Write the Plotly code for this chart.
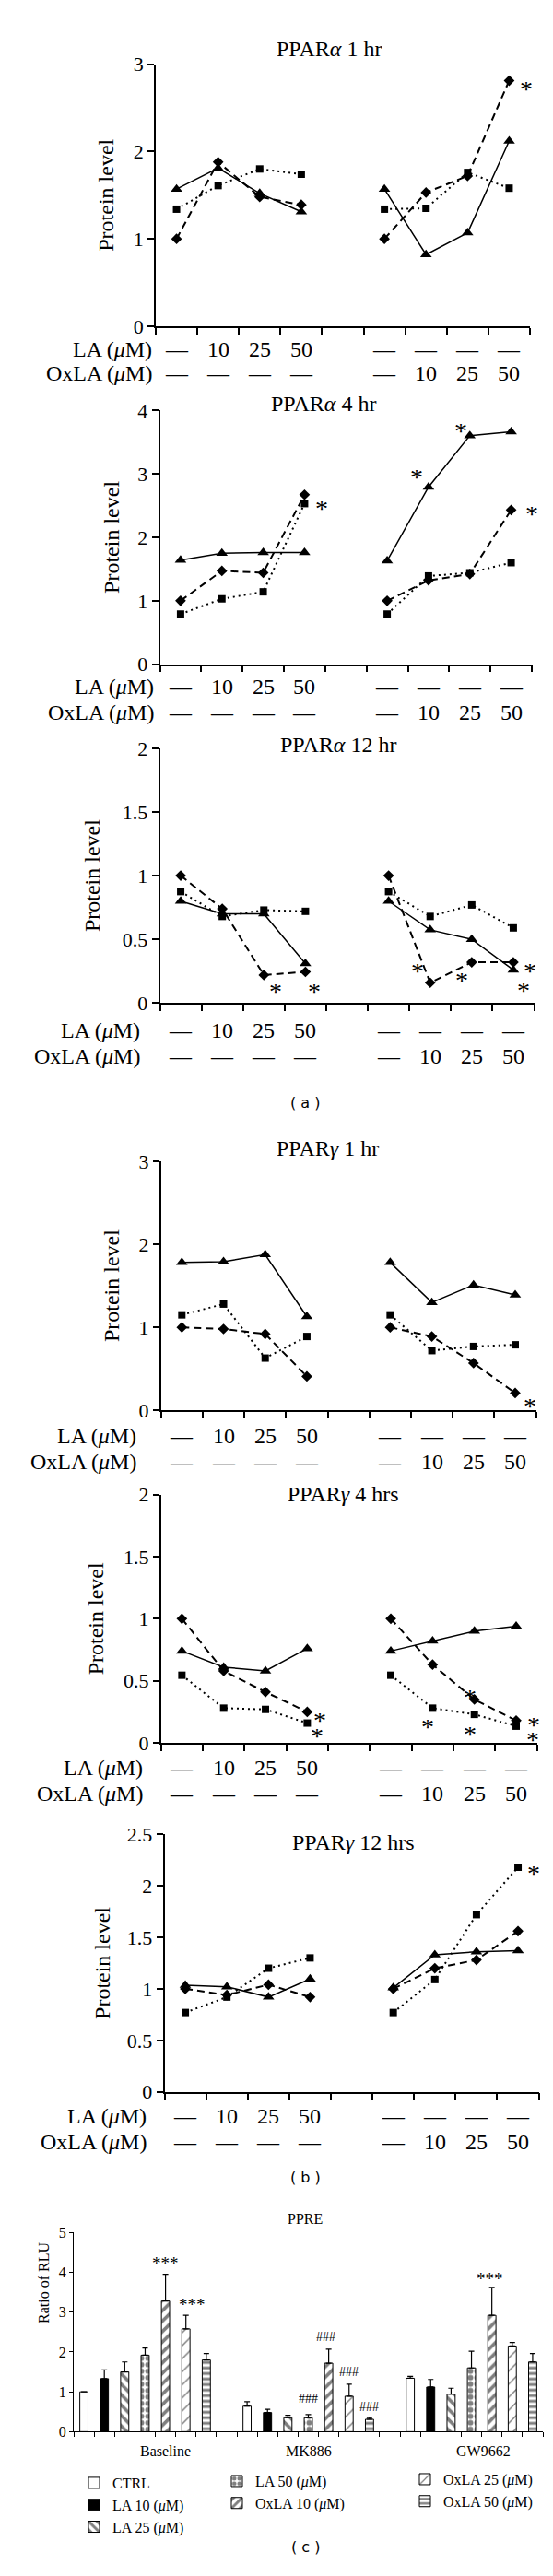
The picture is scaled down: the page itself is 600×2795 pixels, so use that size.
import plotly.graph_objects as go

W, H = 600, 2795
SERIF = "Liberation Serif, Times New Roman, serif"
SANS = "DejaVu Sans, Verdana, sans-serif"

# ---------------- data: line panels (slot 5 is the gap) ----------------
x_slots = [1, 2, 3, 4, 5, 6, 7, 8, 9]

pa1_tri = [1.57, 1.81, 1.52, 1.31, None, 1.57, 0.82, 1.07, 2.12]
pa1_sq = [1.34, 1.61, 1.80, 1.74, None, 1.34, 1.35, 1.76, 1.58]
pa1_dia = [1.00, 1.88, 1.48, 1.39, None, 1.00, 1.53, 1.72, 2.81]

pa4_tri = [1.64, 1.75, 1.76, 1.76, None, 1.63, 2.79, 3.60, 3.66]
pa4_sq = [0.79, 1.03, 1.14, 2.53, None, 0.79, 1.39, 1.44, 1.60]
pa4_dia = [1.00, 1.47, 1.44, 2.67, None, 1.00, 1.32, 1.42, 2.43]

pa12_tri = [0.80, 0.70, 0.70, 0.31, None, 0.80, 0.575, 0.50, 0.26]
pa12_sq = [0.875, 0.68, 0.73, 0.72, None, 0.875, 0.68, 0.77, 0.59]
pa12_dia = [1.00, 0.74, 0.22, 0.245, None, 1.00, 0.16, 0.32, 0.32]

pg1_tri = [1.78, 1.79, 1.875, 1.13, None, 1.78, 1.30, 1.51, 1.39]
pg1_sq = [1.15, 1.28, 0.63, 0.89, None, 1.15, 0.72, 0.77, 0.79]
pg1_dia = [1.00, 0.98, 0.92, 0.41, None, 1.00, 0.89, 0.57, 0.21]

pg4_tri = [0.74, 0.61, 0.58, 0.76, None, 0.74, 0.82, 0.90, 0.94]
pg4_sq = [0.545, 0.28, 0.27, 0.16, None, 0.545, 0.28, 0.23, 0.135]
pg4_dia = [1.00, 0.58, 0.41, 0.25, None, 1.00, 0.63, 0.35, 0.18]

pg12_tri = [1.035, 1.02, 0.92, 1.095, None, 1.01, 1.33, 1.36, 1.37]
pg12_sq = [0.77, 0.92, 1.20, 1.30, None, 0.77, 1.09, 1.72, 2.18]
pg12_dia = [1.00, 0.94, 1.04, 0.92, None, 1.00, 1.20, 1.28, 1.56]

# significance stars (slot, value)
pa1_star_x, pa1_star_y = [9.41], [2.77]
pa4_star_x, pa4_star_y = [4.42, 6.72, 7.79, 9.55, 9.5], [2.54, 3.03, 3.75, 3.69, 2.45]
pa12_star_x, pa12_star_y = [3.29, 4.22, 6.7, 7.75, 9.4, 9.25], [0.13, 0.13, 0.29, 0.22, 0.29, 0.14]
pg1_star_x, pg1_star_y = [9.36], [0.12]
pg4_star_x, pg4_star_y = [4.3, 4.24, 7.9, 6.89, 7.9, 9.42, 9.4], [0.22, 0.10, 0.41, 0.17, 0.115, 0.19, 0.07]
pg12_star_x, pg12_star_y = [9.38], [2.17]

# treatment row labels
la_row = ["—", "10", "25", "50", "", "—", "—", "—", "—"]
oxla_row = ["—", "—", "—", "—", "", "—", "10", "25", "50"]

# ---------------- data: PPRE bar chart ----------------
bar_names = ["CTRL", "LA 10 (<i>μ</i>M)", "LA 25 (<i>μ</i>M)", "LA 50 (<i>μ</i>M)",
             "OxLA 10 (<i>μ</i>M)", "OxLA 25 (<i>μ</i>M)", "OxLA 50 (<i>μ</i>M)"]
groups = ["Baseline", "MK886", "GW9662"]
baseline_vals = [1.00, 1.33, 1.50, 1.92, 3.28, 2.58, 1.80]
baseline_err = [0.00, 0.22, 0.25, 0.18, 0.67, 0.34, 0.16]
mk886_vals = [0.64, 0.48, 0.35, 0.35, 1.72, 0.89, 0.31]
mk886_err = [0.11, 0.08, 0.06, 0.08, 0.35, 0.30, 0.04]
gw9662_vals = [1.34, 1.12, 0.94, 1.60, 2.92, 2.15, 1.75]
gw9662_err = [0.05, 0.19, 0.15, 0.42, 0.70, 0.09, 0.21]
group_start_slots = [1, 9, 17]

bar_sig_x = [5, 6.3, 20.9, 12.0, 12.85, 14.0, 15.0]
bar_sig_y = [4.3, 3.27, 3.9, 0.84, 2.38, 1.51, 0.62]
bar_sig_text = ["***", "***", "***", "###", "###", "###", "###"]

# ---------------- layout geometry (pixels) ----------------
panels = [
    dict(data=(pa1_tri, pa1_sq, pa1_dia), stars=(pa1_star_x, pa1_star_y),
         x0=161, x1=567, ytop=50, ybot=337, ymax=3, dtick=1,
         title="PPAR<i>α</i> 1 hr", tx=349, ty=33, ylx=107, rlx=159, la_y=362, ox_y=388),
    dict(data=(pa4_tri, pa4_sq, pa4_dia), stars=(pa4_star_x, pa4_star_y),
         x0=165.5, x1=569, ytop=429, ybot=707, ymax=4, dtick=1,
         title="PPAR<i>α</i> 4 hr", tx=343, ty=422, ylx=113, rlx=161, la_y=732, ox_y=760),
    dict(data=(pa12_tri, pa12_sq, pa12_dia), stars=(pa12_star_x, pa12_star_y),
         x0=165.5, x1=571.5, ytop=799, ybot=1078, ymax=2, dtick=0.5,
         title="PPAR<i>α</i> 12 hr", tx=359, ty=795, ylx=92, rlx=146, la_y=1108, ox_y=1136),
    dict(data=(pg1_tri, pg1_sq, pg1_dia), stars=(pg1_star_x, pg1_star_y),
         x0=166.7, x1=573.6, ytop=1251, ybot=1524, ymax=3, dtick=1,
         title="PPAR<i>γ</i> 1 hr", tx=347, ty=1237, ylx=113, rlx=142, la_y=1552, ox_y=1580),
    dict(data=(pg4_tri, pg4_sq, pg4_dia), stars=(pg4_star_x, pg4_star_y),
         x0=166.7, x1=574.7, ytop=1616, ybot=1888, ymax=2, dtick=0.5,
         title="PPAR<i>γ</i> 4 hrs", tx=364, ty=1615, ylx=96, rlx=149, la_y=1915, ox_y=1943),
    dict(data=(pg12_tri, pg12_sq, pg12_dia), stars=(pg12_star_x, pg12_star_y),
         x0=170.5, x1=576.6, ytop=1988, ybot=2270, ymax=2.5, dtick=0.5,
         title="PPAR<i>γ</i> 12 hrs", tx=375, ty=1997, ylx=103, rlx=153, la_y=2297, ox_y=2325),
]


def px(x):
    return x / W


def py(y):
    return 1 - y / H


fig = go.Figure()
annotations = []
layout = {}

axis_common = dict(showline=True, linecolor="black", linewidth=1.5, ticks="outside",
                   ticklen=7, tickwidth=1.5, tickcolor="black", showgrid=False,
                   zeroline=False, fixedrange=True)

styles = [
    dict(symbol="triangle-up", size=11, dash="solid", width=1.5),
    dict(symbol="square", size=8, dash="2px,4px", width=2),
    dict(symbol="diamond", size=9, dash="8px,5px", width=2),
]

for i, p in enumerate(panels, start=1):
    xa = f"x{i}"
    ya = f"y{i}"
    for vals, st in zip(p["data"], styles):
        fig.add_trace(go.Scatter(
            x=x_slots, y=vals, xaxis=xa, yaxis=ya, mode="lines+markers",
            connectgaps=False, showlegend=False, cliponaxis=False,
            line=dict(color="black", width=st["width"], dash=st["dash"]),
            marker=dict(symbol=st["symbol"], size=st["size"], color="black"),
        ))
    layout[f"xaxis{i}"] = dict(axis_common, domain=[px(p["x0"]), px(p["x1"])], anchor=ya,
                               range=[0.5, 9.5], tickvals=[k + 0.5 for k in range(0, 10)],
                               showticklabels=False)
    nt = int(round(p["ymax"] / p["dtick"])) + 1
    layout[f"yaxis{i}"] = dict(axis_common, domain=[py(p["ybot"]), py(p["ytop"])], anchor=xa,
                               range=[0, p["ymax"]],
                               tickvals=[k * p["dtick"] for k in range(nt)],
                               ticktext=[f"{k * p['dtick']:g}" for k in range(nt)],
                               tickfont=dict(family=SERIF, size=22, color="black"))
    # title
    annotations.append(dict(text=p["title"], x=px(p["tx"]), y=py(p["ty"]), xref="paper",
                            yref="paper", showarrow=False, xanchor="center", yanchor="middle",
                            font=dict(family=SERIF, size=24, color="black")))
    # y title
    annotations.append(dict(text="Protein level", x=px(p["ylx"]),
                            y=py((p["ytop"] + p["ybot"]) / 2), xref="paper", yref="paper",
                            showarrow=False, textangle=-90, xanchor="center", yanchor="middle",
                            font=dict(family=SERIF, size=24, color="black")))
    # row labels
    for lbl, yy, row in (("LA (<i>μ</i>M)", p["la_y"], la_row),
                         ("OxLA (<i>μ</i>M)", p["ox_y"], oxla_row)):
        annotations.append(dict(text=lbl, x=px(p["rlx"]), y=py(yy), xref="paper", yref="paper",
                                showarrow=False, xanchor="right", yanchor="middle",
                                font=dict(family=SERIF, size=24, color="black")))
        for xs, t in zip(x_slots, row):
            if t:
                annotations.append(dict(text=t, x=xs, y=py(yy), xref=xa, yref="paper",
                                        showarrow=False, xanchor="center", yanchor="middle",
                                        font=dict(family=SERIF, size=24, color="black")))
    # stars (compact box so stacked stars don't collide)
    for sx, sy in zip(*p["stars"]):
        annotations.append(dict(text="*", x=sx, y=sy, xref=xa, yref=ya, showarrow=False,
                                xanchor="center", yanchor="middle", yshift=-5,
                                height=14, width=14, valign="middle",
                                font=dict(family=SERIF, size=28, color="black")))

# ---------------- bar chart ----------------
patterns = [
    dict(shape=""),
    dict(shape=""),
    dict(shape="\\", size=8, solidity=0.45, fgcolor="black", bgcolor="white"),
    dict(shape=".", size=7, solidity=0.55, fgcolor="black", bgcolor="white"),
    dict(shape="/", size=8, solidity=0.45, fgcolor="black", bgcolor="white"),
    dict(shape="/", size=10, solidity=0.15, fgcolor="black", bgcolor="white"),
    dict(shape="-", size=6, solidity=0.5, fgcolor="black", bgcolor="white"),
]
fills = ["white", "black", "white", "white", "white", "white", "white"]
legend_ids = ["legend", "legend", "legend", "legend2", "legend2", "legend3", "legend3"]

for s, name in enumerate(bar_names):
    xs = [g + s for g in group_start_slots]
    ys = [baseline_vals[s], mk886_vals[s], gw9662_vals[s]]
    es = [baseline_err[s], mk886_err[s], gw9662_err[s]]
    fig.add_trace(go.Bar(
        x=xs, y=ys, name=name, xaxis="x7", yaxis="y7", width=0.4,
        legend=legend_ids[s],
        marker=dict(color=fills[s], line=dict(color="black", width=1), pattern=patterns[s]),
        error_y=dict(type="data", symmetric=False, array=es, arrayminus=[0, 0, 0],
                     color="black", thickness=1.2, width=3),
    ))

layout["xaxis7"] = dict(axis_common, domain=[px(72), px(581)], anchor="y7", range=[0.5, 23.5],
                        tickvals=[k + 0.5 for k in range(0, 24)], showticklabels=False,
                        ticklen=5, linewidth=1.2, tickwidth=1.2)
layout["yaxis7"] = dict(axis_common, domain=[py(2642), py(2424)], anchor="x7", range=[0, 5],
                        tickvals=[0, 1, 2, 3, 4, 5], ticklen=4, linewidth=1.2, tickwidth=1.2,
                        tickfont=dict(family=SERIF, size=16, color="black"))

annotations.append(dict(text="PPRE", x=px(323), y=py(2420), xref="paper", yref="paper",
                        showarrow=False, font=dict(family=SERIF, size=16, color="black")))
annotations.append(dict(text="Ratio of RLU", x=px(29), y=py(2526), xref="paper", yref="paper",
                        showarrow=False, textangle=-90,
                        font=dict(family=SERIF, size=16, color="black")))
for gx, g in zip([5, 12, 20.6], groups):
    annotations.append(dict(text=g, x=gx, y=py(2663), xref="x7", yref="paper", showarrow=False,
                            yanchor="middle", font=dict(family=SERIF, size=16, color="black")))
for sx, sy, t in zip(bar_sig_x, bar_sig_y, bar_sig_text):
    annotations.append(dict(text=t, x=sx, y=sy, xref="x7", yref="y7", showarrow=False,
                            yshift=(-3 if t == "***" else 0),
                            font=dict(family=SERIF, size=(19 if t == "***" else 14),
                                      color="black")))

for lbl, yy in (("( a )", 1187), ("( b )", 2375), ("( c )", 2780)):
    annotations.append(dict(text=lbl, x=px(323), y=py(yy), xref="paper", yref="paper",
                            showarrow=False, font=dict(family=SANS, size=16, color="black")))

leg_common = dict(orientation="v", yanchor="top", xanchor="left", bgcolor="rgba(0,0,0,0)",
                  font=dict(family=SERIF, size=16, color="black"), tracegroupgap=0,
                  itemclick=False, itemdoubleclick=False)
layout["legend"] = dict(leg_common, x=px(74), y=py(2681))
layout["legend2"] = dict(leg_common, x=px(229), y=py(2679))
layout["legend3"] = dict(leg_common, x=px(433), y=py(2677))

fig.update_layout(
    width=W, height=H, autosize=False, margin=dict(l=0, r=0, t=0, b=0),
    paper_bgcolor="white", plot_bgcolor="white", barmode="overlay",
    annotations=annotations, **layout,
)

fig.write_html("out.html", config={"displayModeBar": False})
